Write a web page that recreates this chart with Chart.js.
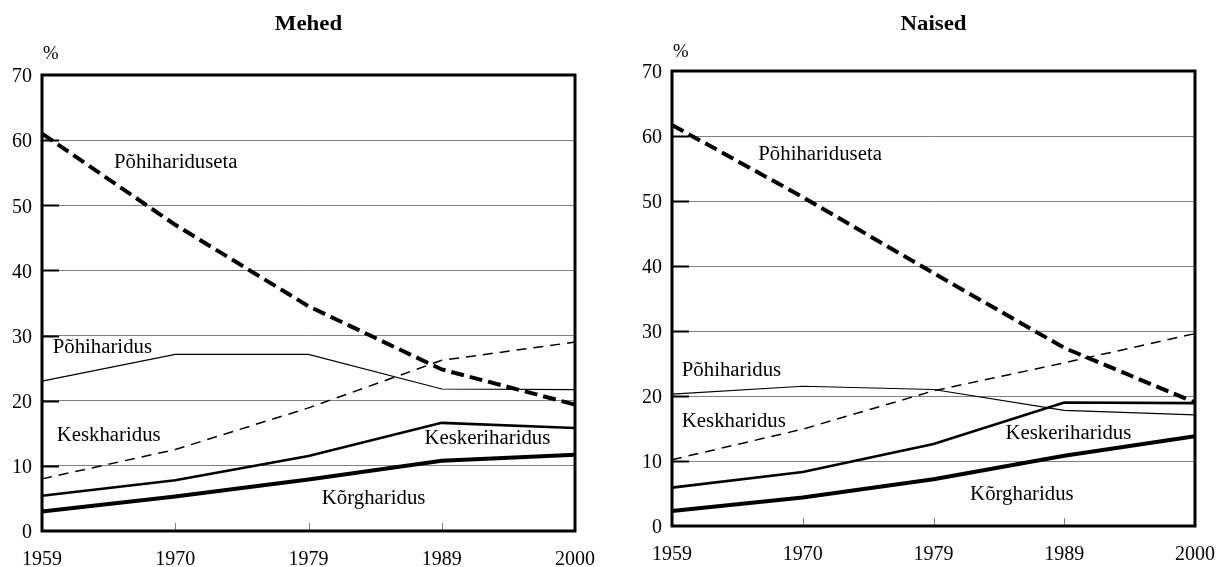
<!DOCTYPE html>
<html>
<head>
<meta charset="utf-8">
<script src="https://cdn.jsdelivr.net/npm/chart.js@4.4.1/dist/chart.umd.min.js"></script>
<style>
  html, body { margin: 0; padding: 0; background: #fff; }
  #wrap { position: relative; width: 1232px; height: 567px; overflow: hidden; }
  canvas { position: absolute; top: 0; }
</style>
</head>
<body>
<div id="wrap">
  <canvas id="c1" width="616" height="567" style="left:0"></canvas>
  <canvas id="c2" width="616" height="567" style="left:616px"></canvas>
</div>
<script>
// ---- Data ----
const years = ['1959', '1970', '1979', '1989', '2000'];
const yTicks = [0, 10, 20, 30, 40, 50, 60, 70];

const seriesNames = ['Põhihariduseta', 'Põhiharidus', 'Keskharidus', 'Keskeriharidus', 'Kõrgharidus'];

// Mehed (men), %
const menPohihariduseta = [61.0, 47.0, 34.5, 24.8, 19.4];
const menPohiharidus    = [23.0, 27.1, 27.1, 21.8, 21.7];
const menKeskharidus    = [8.0, 12.5, 18.9, 26.2, 29.0];
const menKeskeriharidus = [5.4, 7.8, 11.5, 16.6, 15.8];
const menKorgharidus    = [3.0, 5.3, 7.9, 10.8, 11.7];

// Naised (women), %
const womenPohihariduseta = [61.7, 50.6, 38.9, 27.4, 19.0];
const womenPohiharidus    = [20.3, 21.5, 21.0, 17.8, 17.1];
const womenKeskharidus    = [10.2, 14.9, 20.8, 25.1, 29.6];
const womenKeskeriharidus = [5.9, 8.3, 12.6, 19.0, 18.9];
const womenKorgharidus    = [2.3, 4.4, 7.2, 10.8, 13.8];

// ---- Styles (separate from data) ----
const lineStyles = [
  { borderWidth: 4,   borderDash: [13, 6] },
  { borderWidth: 1.2, borderDash: [] },
  { borderWidth: 1.5, borderDash: [10, 7] },
  { borderWidth: 2.6, borderDash: [] },
  { borderWidth: 4,   borderDash: [] }
];

// in-plot label anchors (category index, value) for the series names
const menLabelAnchors = [[0.54, 56.6], [0.08, 28.1], [0.11, 14.6], [2.87, 14.1], [2.10, 5.0]];
const womenLabelAnchors = [[0.66, 57.1], [0.075, 23.9], [0.075, 16.0], [2.55, 14.2], [2.28, 4.8]];

const SERIF = '"Liberation Serif", "Times New Roman", serif';
const STRETCH = 1.04;

function drawStretchedText(ctx, text, x, y, font, align) {
  ctx.save();
  ctx.font = font;
  ctx.fillStyle = '#000';
  ctx.textBaseline = 'middle';
  const w = ctx.measureText(text).width * STRETCH;
  let left = x;
  if (align === 'center') left = x - w / 2;
  ctx.translate(left, y);
  ctx.scale(STRETCH, 1);
  ctx.textAlign = 'left';
  ctx.fillText(text, 0, 0);
  ctx.restore();
}

const decorPlugin = {
  id: 'decor',
  afterDraw(chart) {
    const o = chart.options.plugins.decor;
    const ctx = chart.ctx;
    const a = chart.chartArea;
    const xs = chart.scales.x, ys = chart.scales.y;
    ctx.save();
    // inner x tick marks
    ctx.strokeStyle = '#808080';
    ctx.lineWidth = 1;
    for (let i = 1; i < years.length - 1; i++) {
      const px = Math.round(xs.getPixelForValue(i)) + 0.5;
      ctx.beginPath();
      ctx.moveTo(px, a.bottom);
      ctx.lineTo(px, a.bottom - 8);
      ctx.stroke();
    }
    // inner y tick marks
    ctx.strokeStyle = '#000';
    ctx.lineWidth = 2;
    for (const v of yTicks) {
      if (v === 0 || v === 70) continue;
      const py = Math.round(ys.getPixelForValue(v)) + 0.5;
      ctx.beginPath();
      ctx.moveTo(a.left, py);
      ctx.lineTo(a.left + 17, py);
      ctx.stroke();
    }
    // frame
    ctx.lineWidth = 3;
    ctx.strokeStyle = '#000';
    ctx.strokeRect(a.left, a.top, a.right - a.left, a.bottom - a.top);
    ctx.restore();
    // title
    drawStretchedText(ctx, o.title, (a.left + a.right) / 2, 24, 'bold 22px ' + SERIF, 'center');
    // percent sign
    drawStretchedText(ctx, '%', a.left + 1, o.pctY, '18px ' + SERIF, 'left');
    // series labels
    o.anchors.forEach((p, i) => {
      const px = xs.getPixelForValue(p[0]);
      const py = ys.getPixelForValue(p[1]);
      drawStretchedText(ctx, seriesNames[i], px, py, '20px ' + SERIF, 'left');
    });
  }
};

function makeChart(id, title, seriesValues, anchors, lay) {
  const datasets = seriesValues.map((vals, i) => ({
    label: seriesNames[i],
    data: vals,
    borderColor: '#000',
    backgroundColor: '#000',
    borderWidth: lineStyles[i].borderWidth,
    borderDash: lineStyles[i].borderDash,
    pointRadius: 0,
    tension: 0,
    fill: false,
    clip: 2
  }));
  return new Chart(document.getElementById(id), {
    type: 'line',
    data: { labels: years, datasets },
    plugins: [decorPlugin],
    options: {
      responsive: false,
      animation: false,
      devicePixelRatio: 1,
      layout: { padding: { left: 0, right: lay.right, top: lay.top, bottom: 0 } },
      plugins: {
        legend: { display: false },
        tooltip: { enabled: false },
        decor: { title, anchors, pctY: lay.pctY }
      },
      scales: {
        x: {
          type: 'category',
          offset: false,
          grid: { display: false, drawTicks: false },
          border: { display: false },
          ticks: {
            color: '#000',
            font: { family: SERIF, size: 20 },
            padding: 17,
            maxRotation: 0,
            autoSkip: false
          },
          afterFit(scale) { scale.height = lay.xh; }
        },
        y: {
          min: 0,
          max: 70,
          grid: {
            drawTicks: false,
            lineWidth: 1,
            color: (c) => (c.tick && (c.tick.value === 0 || c.tick.value === 70)) ? 'rgba(0,0,0,0)' : '#808080'
          },
          border: { display: false },
          afterBuildTicks(scale) { scale.ticks = yTicks.map(v => ({ value: v })); },
          ticks: {
            color: '#000',
            font: { family: SERIF, size: 20 },
            padding: 10,
            labelOffset: 2
          },
          afterFit(scale) { scale.width = lay.yw; }
        }
      }
    }
  });
}

makeChart('c1', 'Mehed',
  [menPohihariduseta, menPohiharidus, menKeskharidus, menKeskeriharidus, menKorgharidus],
  menLabelAnchors, { yw: 42, right: 41, top: 75, xh: 36, pctY: 54 });

makeChart('c2', 'Naised',
  [womenPohihariduseta, womenPohiharidus, womenKeskharidus, womenKeskeriharidus, womenKorgharidus],
  womenLabelAnchors, { yw: 56, right: 27, top: 71, xh: 41, pctY: 52 });
</script>
</body>
</html>
